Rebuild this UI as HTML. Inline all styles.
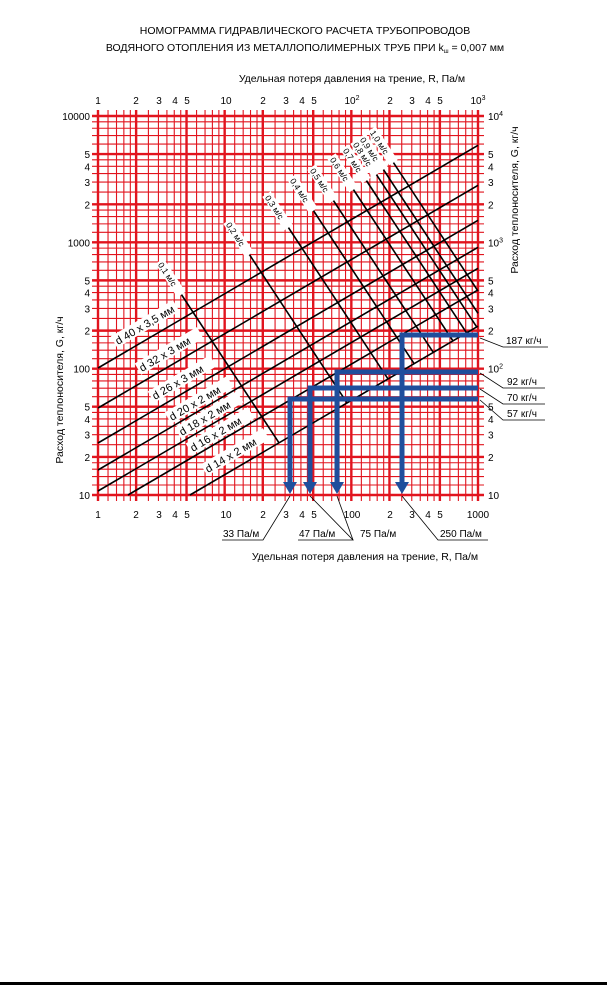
<!DOCTYPE html>
<html><head><meta charset="utf-8"><style>
html,body{margin:0;padding:0;background:#fff;width:607px;height:985px;overflow:hidden}
svg{display:block;font-family:"Liberation Sans","DejaVu Sans",sans-serif}
</style></head><body>
<svg id="s" width="607" height="985" viewBox="0 0 607 985" xmlns="http://www.w3.org/2000/svg">
<g font-size="10.5" text-anchor="middle" fill="#000">
<text x="305" y="34">НОМОГРАММА ГИДРАВЛИЧЕСКОГО РАСЧЕТА ТРУБОПРОВОДОВ</text>
<text x="305" y="51">ВОДЯНОГО ОТОПЛЕНИЯ ИЗ МЕТАЛЛОПОЛИМЕРНЫХ ТРУБ ПРИ k<tspan font-size="6" dy="2">ш</tspan><tspan dy="-2"> = 0,007 мм</tspan></text>
<text x="352" y="82">Удельная потеря давления на трение, R, Па/м</text>
<text x="365" y="560">Удельная потеря давления на трение, R, Па/м</text>
</g>
<g id="grid" stroke="#e1141e"></g>
<g id="black" stroke="#000" stroke-width="1.6" fill="none"></g>
<g font-size="10" fill="#000" text-anchor="middle">
<text x="98" y="104">1</text><text x="136" y="104">2</text><text x="159" y="104">3</text><text x="175" y="104">4</text><text x="187" y="104">5</text>
<text x="226" y="104">10</text><text x="263" y="104">2</text><text x="286" y="104">3</text><text x="302" y="104">4</text><text x="314" y="104">5</text>
<text x="352" y="104">10<tspan font-size="7" dy="-4">2</tspan></text><text x="390" y="104">2</text><text x="412" y="104">3</text><text x="428" y="104">4</text><text x="440" y="104">5</text>
<text x="478" y="104">10<tspan font-size="7" dy="-4">3</tspan></text>
<text x="98" y="518">1</text><text x="136" y="518">2</text><text x="159" y="518">3</text><text x="175" y="518">4</text><text x="187" y="518">5</text>
<text x="226" y="518">10</text><text x="263" y="518">2</text><text x="286" y="518">3</text><text x="302" y="518">4</text><text x="314" y="518">5</text>
<text x="352" y="518">100</text><text x="390" y="518">2</text><text x="412" y="518">3</text><text x="428" y="518">4</text><text x="440" y="518">5</text>
<text x="478" y="518">1000</text>
</g>
<g font-size="10" fill="#000" text-anchor="end" id="lt"></g>
<g font-size="10" fill="#000" text-anchor="start" id="rt"></g>
<text transform="translate(63,390) rotate(-90)" font-size="10.5" text-anchor="middle">Расход теплоносителя, G, кг/ч</text>
<text transform="translate(518,200) rotate(-90)" font-size="10.5" text-anchor="middle">Расход теплоносителя, G, кг/ч</text>
<g id="labels"></g>
<g stroke="#1f4e9c" stroke-width="5" fill="none" stroke-linejoin="miter">
<polyline points="478,335 402,335 402,484"/>
<polyline points="478,372 337,372 337,484"/>
<polyline points="478,388 310,388 310,484"/>
<polyline points="478,399 290,399 290,484"/>
</g>
<g fill="#1f4e9c">
<polygon points="395,482 409,482 402,494"/><polygon points="330,482 344,482 337,494"/>
<polygon points="303,482 317,482 310,494"/><polygon points="283,482 297,482 290,494"/>
</g>
<g stroke="#000" stroke-width="0.8" fill="none">
<polyline points="480,338 503,347 548,347"/>
<polyline points="480,373 503,388 545,388"/>
<polyline points="480,389 503,404 545,404"/>
<polyline points="480,400 503,420 545,420"/>
<polyline points="222,540 263,540 290,496"/>
<polyline points="298,540 353,540 310,496"/>
<line x1="353" y1="540" x2="337" y2="496"/>
<polyline points="488,540 438,540 402,496"/>
</g>
<g font-size="10" fill="#000">
<text x="506" y="344">187 кг/ч</text><text x="507" y="385">92 кг/ч</text>
<text x="507" y="401">70 кг/ч</text><text x="507" y="417">57 кг/ч</text>
<text x="223" y="537">33 Па/м</text><text x="299" y="537">47 Па/м</text>
<text x="360" y="537">75 Па/м</text><text x="440" y="537">250 Па/м</text>
</g>
<rect x="0" y="982" width="607" height="3" fill="#000"/>
</svg>
<script>
var NS="http://www.w3.org/2000/svg";
function el(p,t,a,txt){var e=document.createElementNS(NS,t);for(var k in a)e.setAttribute(k,a[k]);if(txt)e.textContent=txt;p.appendChild(e);return e;}
var X0=98,X1=478,Y0=495,Y1=116,D=(X1-X0)/3,DY=(Y0-Y1)/3;
var g=document.getElementById('grid');
var ms=[1,1.2,1.4,1.6,1.8,2,2.5,3,3.5,4,4.5,5,6,7,8,9];
for(var d=0;d<3;d++)for(var i=0;i<ms.length;i++){var m=ms[i];var th=(m==1||m==2||m==5)?2.4:1.1;
var x=X0+(d+Math.log10(m))*D;el(g,'line',{x1:x,y1:Y1-6,x2:x,y2:Y0+6,'stroke-width':th});
var y=Y0-(d+Math.log10(m))*DY;el(g,'line',{x1:X0-6,y1:y,x2:X1+6,y2:y,'stroke-width':th});}
el(g,'line',{x1:X1,y1:Y1-6,x2:X1,y2:Y0+6,'stroke-width':2.4});
el(g,'line',{x1:X0-6,y1:Y1,x2:X1+6,y2:Y1,'stroke-width':2.4});
var lt=document.getElementById('lt'),rt=document.getElementById('rt');
var tl=[[0,'10'],[Math.log10(2),'2'],[Math.log10(3),'3'],[Math.log10(4),'4'],[Math.log10(5),'5']];
var big=['10','100','1000','10000'];
for(d=0;d<3;d++)for(i=1;i<tl.length;i++){var y=Y0-(d+tl[i][0])*DY+4;el(lt,'text',{x:90,y:y},tl[i][1]);el(rt,'text',{x:488,y:y},tl[i][1]);}
for(d=0;d<4;d++){var y=Y0-d*DY+4;el(lt,'text',{x:90,y:y},big[d]);
var t=el(rt,'text',{x:488,y:y},'10');if(d>0){el(t,'tspan',{'font-size':7,dy:-4},String(d+1));}}
var b=document.getElementById('black');
function clipLine(x,y,s,xEnd){
 var x2=xEnd,y2=y+s*(x2-x);
 if(y2<Y1){y2=Y1;x2=x+(Y1-y)/s;} if(y2>Y0){y2=Y0;x2=x+(Y0-y)/s;}
 el(b,'line',{x1:x,y1:y,x2:x2,y2:y2});}
var ps=-0.586;
[[98,368],[98,408],[98,443],[98,470],[98,491],[128,495],[190,495]].forEach(function(p){clipLine(p[0],p[1],ps,X1);});
var vs=1.52;
var V=[[160,262,'0,1 м/с'],[228,222,'0,2 м/с'],[267,195,'0,3 м/с'],[292,178,'0,4 м/с'],[312,168,'0,5 м/с'],[332,157,'0,6 м/с'],[345,148,'0,7 м/с'],[355,142,'0,8 м/с'],[362,137,'0,9 м/с'],[372,130,'1,0 м/с']];
var L=document.getElementById('labels');
V.forEach(function(v){
 var xe=(495-ps*190-v[1]+vs*v[0])/(vs-ps); if(xe>X1)xe=X1;
 clipLine(v[0],v[1],vs,xe);
 var ang=Math.atan(vs)*180/Math.PI;
 var gg=el(L,'g',{transform:'translate('+v[0]+','+v[1]+') rotate('+ang+')'});
 el(gg,'rect',{x:-1,y:-5,width:40,height:10,fill:'#fff'});
 el(gg,'text',{x:1,y:3.5,'font-size':8.5},v[2]);
});
var P=[[118,345,'d 40 x 3,5 мм'],[142,372,'d 32 x 3 мм'],[155,400,'d 26 x 3 мм'],[172,421,'d 20 x 2 мм'],[182,436,'d 18 x 2 мм'],[193,452,'d 16 x 2 мм'],[208,473,'d 14 x 2 мм']];
P.forEach(function(p){
 var ang=Math.atan(ps)*180/Math.PI;
 var gg=el(L,'g',{transform:'translate('+p[0]+','+p[1]+') rotate('+ang+')'});
 el(gg,'rect',{x:-2,y:-11,width:72,height:13,fill:'#fff'});
 el(gg,'text',{x:0,y:0,'font-size':11},p[2]);
});
</script>
</body></html>
